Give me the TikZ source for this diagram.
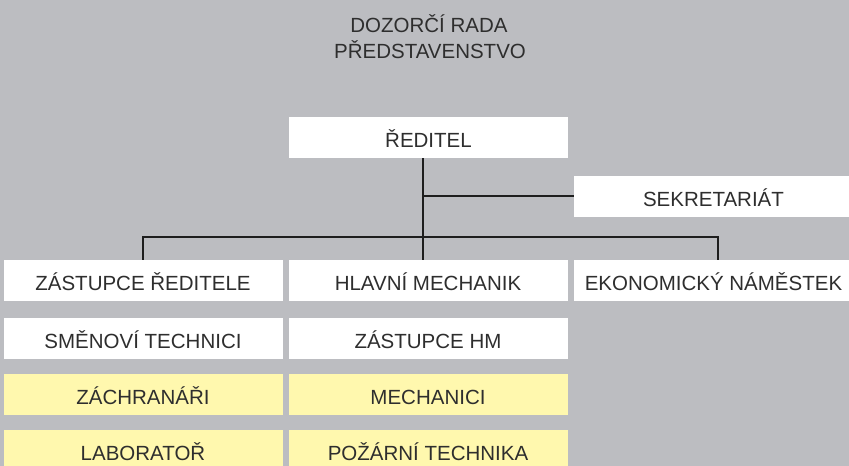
\documentclass[tikz,border=0pt]{standalone}
\usepackage{fontspec}
\setmainfont{Liberation Sans}
\definecolor{bggray}{HTML}{BCBDC1}
\definecolor{boxyellow}{HTML}{FFF8AE}
\definecolor{txt}{HTML}{2E2E2E}
\definecolor{linec}{HTML}{1E1E1E}
\tikzset{
  orgbox/.style={fill=white, draw=none, inner sep=0pt, minimum width=279pt, minimum height=41pt,
    text height=20.5pt, text depth=0pt, text=txt, font=\fontsize{20.5}{24}\selectfont},
  yelbox/.style={orgbox, fill=boxyellow},
  conn/.style={draw=linec, line width=2.8pt},
  titletext/.style={text=txt, font=\fontsize{20.5}{24}\selectfont, inner sep=0pt, anchor=base}
}
\begin{document}
\begin{tikzpicture}[x=1pt,y=-1pt]
\useasboundingbox (0,0) rectangle (849,466);
\clip (0,0) rectangle (849,466);
\fill[bggray] (0,0) rectangle (849,466);
% title
\node[titletext] (t1) at (429,32) {DOZORČÍ RADA};
\node[titletext] (t2) at (430,58) {PŘEDSTAVENSTVO};
% boxes
\node[orgbox] (red) at (428.5,137.5) {ŘEDITEL};
\node[orgbox] (sek) at (713.5,196.5) {SEKRETARIÁT};
\node[orgbox] (zr) at (143,280.5) {ZÁSTUPCE ŘEDITELE};
\node[orgbox] (hm) at (428,280.5) {HLAVNÍ MECHANIK};
\node[orgbox] (en) at (713.5,280.5) {EKONOMICKÝ NÁMĚSTEK};
\node[orgbox] (st) at (143,338.5) {SMĚNOVÍ TECHNICI};
\node[orgbox] (zhm) at (428,338.5) {ZÁSTUPCE HM};
\node[yelbox] (zach) at (143,394.5) {ZÁCHRANÁŘI};
\node[yelbox] (mech) at (428,394.5) {MECHANICI};
\node[yelbox] (lab) at (143,450.5) {LABORATOŘ};
\node[yelbox] (poz) at (428,450.5) {POŽÁRNÍ TECHNIKA};
% connectors
\coordinate (j1) at (423,196);
\coordinate (j2) at (423,237);
\coordinate (bl) at (143,237);
\coordinate (br) at (718,237);
\draw[conn] (red.south -| j1) -- (hm.north -| j1);
\draw[conn] (j1) -- (j1 -| sek.west);
\draw[conn] (zr.north -| bl) -- (bl) -- (br) -- (br |- en.north);
\end{tikzpicture}
\end{document}
